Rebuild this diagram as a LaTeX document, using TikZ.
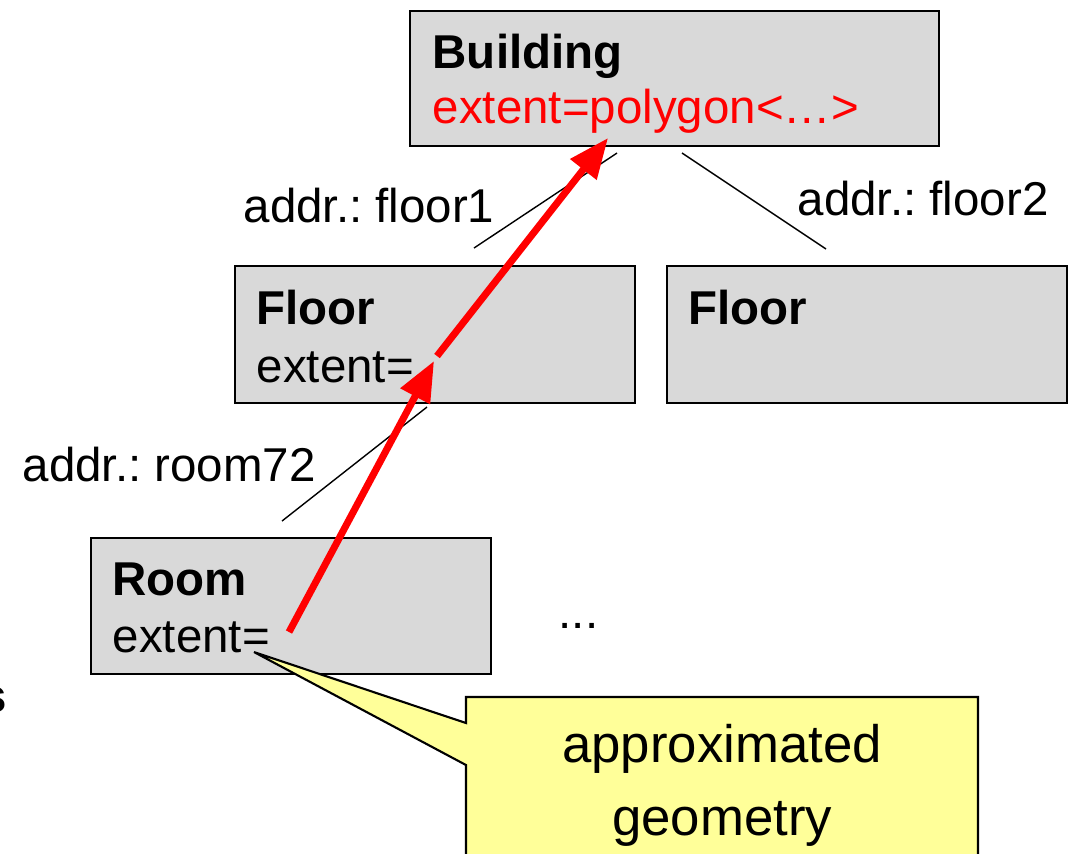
\documentclass[tikz,border=0pt]{standalone}
\usepackage{fontspec}
\setmainfont{Liberation Sans}
\usetikzlibrary{arrows.meta}
\frenchspacing
\definecolor{boxgray}{RGB}{217,217,217}
\definecolor{noteyellow}{RGB}{255,255,153}
\tikzset{
  objbox/.style={draw=black, line width=0.6pt, fill=boxgray, rectangle, inner sep=0pt, anchor=north west},
  lbl/.style={anchor=base west, inner sep=0pt, font=\fontsize{13.5}{16}\selectfont},
  lblb/.style={lbl, font=\fontsize{13.5}{16}\selectfont\bfseries},
  link/.style={draw=black, line width=0.4pt},
  nav/.style={draw=red, line width=2pt, -{Triangle[length=0.4cm, width=0.32cm]}},
  notetext/.style={anchor=base, inner sep=0pt, font=\fontsize{15}{18}\selectfont},
}
\begin{document}
\begin{tikzpicture}[x=0.01cm, y=-0.01cm]
\useasboundingbox (0,0) rectangle (1068,853);
\clip (0,0) rectangle (1068,853);

% object boxes
\node[objbox, minimum width=5.29cm, minimum height=1.35cm] (building) at (409,10) {};
\node[objbox, minimum width=4.00cm, minimum height=1.37cm] (floorA) at (234,265) {};
\node[objbox, minimum width=4.00cm, minimum height=1.37cm] (floorB) at (666,265) {};
\node[objbox, minimum width=4.00cm, minimum height=1.36cm] (room) at (90,537) {};

% box contents
\node[lblb] (tBuilding) at (432,68) {Building};
\node[lbl, text=red] (tPoly) at (432,123) {extent=polygon<…>};
\node[lblb] (tFloorA) at (256,324) {Floor};
\node[lbl] (eFloorA) at (256,382) {extent=};
\node[lblb] (tFloorB) at (688,324) {Floor};
\node[lblb] (tRoom) at (112,595) {Room};
\node[lbl] (eRoom) at (112,652) {extent=};
\node[lbl] (dots) at (558,628) {...};

% edge labels
\node[lbl] (aF1) at (243,222) {addr.: floor1};
\node[lbl] (aF2) at (797,215) {addr.: floor2};
\node[lbl] (aR) at (22,481) {addr.: room72};

% containment links
\coordinate (l1a) at (474,248); \coordinate (l1b) at (617,153);
\coordinate (l2a) at (682,153); \coordinate (l2b) at (826,249);
\coordinate (l3a) at (282,521); \coordinate (l3b) at (427,407);
\draw[link] (l1a) -- (l1b);
\draw[link] (l2a) -- (l2b);
\draw[link] (l3a) -- (l3b);

% extent navigation
\coordinate (r0) at (289,632);
\coordinate (r1) at (434,361);
\coordinate (r2) at (437,356);
\coordinate (r3) at (608,138);
\draw[nav] (r0) -- (r1);
\draw[nav] (r2) -- (r3);

% callout
\coordinate (ctip) at (254,652);
\draw[line width=0.6pt, fill=noteyellow] (466,723) -- (466,697) -- (978,697) -- (978,870) -- (466,870) -- (466,765) -- (ctip) -- cycle;
\node[notetext] (note1) at (722,762) {approximated};
\node[notetext] (note2) at (722,835) {geometry};

% letter running off the left edge
\node[lblb, anchor=base east] (edgeS) at (8,712) {s};
\end{tikzpicture}
\end{document}
